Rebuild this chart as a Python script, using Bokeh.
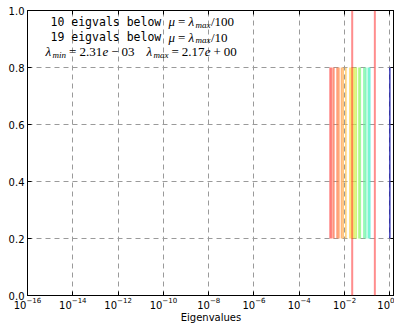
from bokeh.plotting import figure
from bokeh.models import (Label, Span, FixedTicker, Range1d, PrintfTickFormatter,
                          ColumnDataSource, LogAxis, LinearAxis, CustomJSTickFormatter)
from bokeh.embed import file_html
from bokeh.resources import INLINE

# ---------------- data ----------------
eigvals = [2.31e-3, 2.73e-3, 3.34e-3, 4.69e-3, 5.58e-3, 7.36e-3, 8.67e-3,
           1.14e-2, 1.72e-2, 1.97e-2,
           2.34e-2, 2.78e-2, 3.28e-2, 4.32e-2, 4.93e-2, 7.21e-2, 8.58e-2,
           1.12e-1, 1.29e-1,
           1.0]
lam_min = 2.31e-3
lam_max = 2.17
mu_values = [lam_max / 100, lam_max / 10]
n_below = [10, 19]
divisors = ["100", "10"]
seg_lo, seg_hi = 0.2, 0.8
x_tick_exps = [-16, -14, -12, -10, -8, -6, -4, -2, 0]
y_ticks = [0.0, 0.2, 0.4, 0.6, 0.8, 1.0]

# colour ramp (red -> orange -> yellow -> green -> aqua), last line dark blue
ramp = [(0.0, (255, 70, 70)), (0.25, (255, 140, 60)), (0.42, (255, 205, 80)),
        (0.55, (245, 240, 50)), (0.7, (170, 245, 80)), (0.85, (90, 245, 150)),
        (1.0, (70, 240, 210))]


def ramp_color(t):
    for (t0, c0), (t1, c1) in zip(ramp[:-1], ramp[1:]):
        if t <= t1:
            f = (t - t0) / (t1 - t0) if t1 > t0 else 0
            c = [round(a + (b - a) * f) for a, b in zip(c0, c1)]
            return "#%02x%02x%02x" % tuple(c)
    return "#%02x%02x%02x" % ramp[-1][1]


n = len(eigvals)
colors = [ramp_color(i / (n - 2)) for i in range(n - 1)] + ["#1010a8"]
alphas = [0.7] * (n - 1) + [1.0]
widths = [1.7] * (n - 1) + [1.2]

src = ColumnDataSource(dict(x=eigvals, y0=[seg_lo] * n, y1=[seg_hi] * n,
                            c=colors, a=alphas, w=widths))

p = figure(width=394, height=325, x_axis_type="log",
           x_range=Range1d(1e-16, 1.6), y_range=Range1d(0, 1),
           output_backend="svg", toolbar_location=None,
           min_border_left=27, min_border_right=0, min_border_top=10,
           min_border_bottom=30)
p.background_fill_color = "white"
p.border_fill_color = "white"
p.outline_line_color = "black"
p.outline_line_width = 1

# grids
for g in (p.xgrid, p.ygrid):
    g.grid_line_color = "#9a9a9a"
    g.grid_line_dash = "5 4"
    g.grid_line_width = 1
p.xgrid.ticker = FixedTicker(ticks=[10.0 ** e for e in x_tick_exps])
p.ygrid.ticker = FixedTicker(ticks=y_ticks)

# axes
p.xaxis.ticker = FixedTicker(ticks=[10.0 ** e for e in x_tick_exps], minor_ticks=[])
p.yaxis.ticker = FixedTicker(ticks=y_ticks, minor_ticks=[])
p.yaxis.formatter = PrintfTickFormatter(format="%.1f")
for ax in (p.xaxis[0], p.yaxis[0]):
    ax.axis_line_color = "black"
    ax.major_tick_line_color = "black"
    ax.major_tick_in = 4
    ax.major_tick_out = 0
    ax.minor_tick_in = 0
    ax.minor_tick_out = 0
    ax.major_label_text_font = "DejaVu Sans"
    ax.major_label_text_font_size = "10px"
    ax.major_label_text_color = "black"
    ax.major_label_standoff = 3
p.xaxis.major_label_standoff = 1
p.xaxis.axis_label = "Eigenvalues"
p.xaxis.axis_label_text_font = "DejaVu Sans"
p.xaxis.axis_label_text_font_size = "10px"
p.xaxis.axis_label_text_font_style = "normal"
p.xaxis.axis_label_text_color = "black"
p.xaxis.axis_label_standoff = 0

blank = CustomJSTickFormatter(code="return ''")
top = LogAxis(ticker=FixedTicker(ticks=[10.0 ** e for e in x_tick_exps], minor_ticks=[]),
              formatter=blank, major_tick_in=4, major_tick_out=0,
              minor_tick_in=0, minor_tick_out=0, major_label_standoff=0,
              axis_line_color=None, major_tick_line_color="black")
p.add_layout(top, "above")
right = LinearAxis(ticker=FixedTicker(ticks=y_ticks, minor_ticks=[]),
                   formatter=blank, major_tick_in=4, major_tick_out=0,
                   minor_tick_in=0, minor_tick_out=0, major_label_standoff=0,
                   axis_line_color=None, major_tick_line_color="black")
p.add_layout(right, "right")

# eigenvalue lines
p.segment(x0="x", y0="y0", x1="x", y1="y1", source=src,
          line_color="c", line_alpha="a", line_width="w")

# mu lines
for mu in mu_values:
    p.add_layout(Span(location=mu, dimension="height", line_color="#ff3030",
                      line_alpha=0.55, line_width=2))

# ---------------- annotation text ----------------
MONO = "DejaVu Sans Mono"
SERIF = "Liberation Serif"
FL = 27  # frame left in page px


def put(text, px, yd, font=SERIF, size=13, style="normal"):
    p.add_layout(Label(x=px - FL, y=yd, x_units="screen", y_units="data",
                       text=text, text_font=font, text_font_size=f"{size}px",
                       text_font_style=style, text_color="black",
                       text_baseline="middle", text_align="left"))


line_y = [0.96, 0.907]
sub_dy = -0.012
SUB = 9
for k in range(2):
    y = line_y[k]
    put(f"{n_below[k]} eigvals below", 50, y, font=MONO, size=11.5)
    put("\u03bc", 168, y, style="italic")
    put("=", 177.5, y)
    put("\u03bb", 188, y, style="italic")
    put("max", 195, y + sub_dy, size=SUB, style="italic")
    put("/" + divisors[k], 210.5, y)

y3 = 0.856
mn_m, mn_e = ("%.2e" % lam_min).split("e")
mx_m, mx_e = ("%.2e" % lam_max).split("e")
put("\u03bb", 45, y3, style="italic")
put("min", 52, y3 + sub_dy, size=SUB, style="italic")
put("=", 68.5, y3)
put(mn_m, 79, y3)
put("e", 102, y3, style="italic")
put("\u2212" if mn_e[0] == "-" else "+", 110.8, y3)
put(mn_e[1:], 121, y3)

put("\u03bb", 146, y3, style="italic")
put("max", 153, y3 + sub_dy, size=SUB, style="italic")
put("=", 171, y3)
put(mx_m, 181.3, y3)
put("e", 204.2, y3, style="italic")
put("\u2212" if mx_e[0] == "-" else "+", 213, y3)
put(mx_e[1:], 223.3, y3)

open("out.html", "w").write(file_html(p, INLINE))
